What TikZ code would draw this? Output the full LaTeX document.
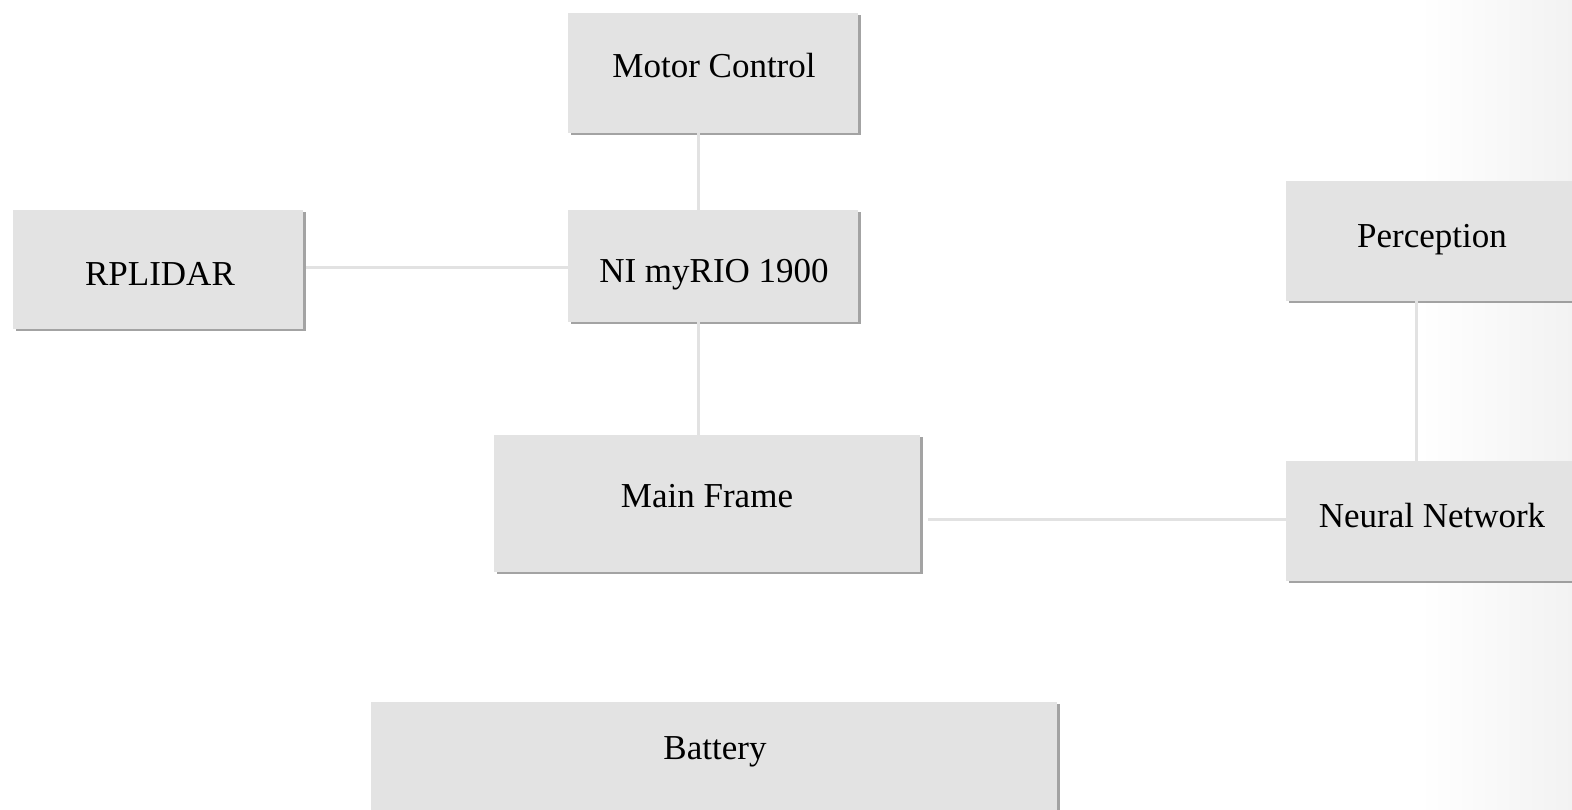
\documentclass[tikz,border=0pt]{standalone}
\usepackage{fontspec}
\setmainfont{Liberation Serif}
\usetikzlibrary{shadows}
\definecolor{boxgray}{HTML}{E3E3E3}
\definecolor{linegray}{HTML}{E2E2E2}
\tikzset{
  blk/.style={draw=none, fill=boxgray, inner sep=0pt,
    drop shadow={shadow xshift=3pt, shadow yshift=-2pt, opacity=0.6, fill=gray!80!black}},
  lbl/.style={anchor=base, inner sep=0pt, font=\fontsize{35}{40}\selectfont},
  wire/.style={draw=linegray, line width=3pt}
}
\begin{document}
\begin{tikzpicture}[x=1pt,y=-1pt]
\useasboundingbox (0,0) rectangle (1572,809);
\fill[white] (0,0) rectangle (1572,809);
\shade[left color=white, right color=black!6] (1420,0) rectangle (1600,809);
% boxes
\node[blk, minimum width=290pt, minimum height=120pt] (mc) at (713,73) {};
\node[blk, minimum width=290pt, minimum height=112pt] (ni) at (713,266) {};
\node[blk, minimum width=290pt, minimum height=119pt] (rp) at (158,269.5) {};
\node[blk, minimum width=426pt, minimum height=137pt] (mf) at (707,503.5) {};
\node[blk, minimum width=294pt, minimum height=120pt] (pe) at (1433,241) {};
\node[blk, minimum width=294pt, minimum height=120pt] (nn) at (1433,521) {};
\node[blk, minimum width=686pt, minimum height=118pt] (ba) at (714,761) {};
% connectors
\coordinate (mcb) at (698,133);
\coordinate (nit) at (698,210);
\coordinate (nib) at (698,322);
\coordinate (mft) at (698,435);
\coordinate (nil) at (568,267);
\coordinate (rpr) at (306,267);
\coordinate (mfr) at (928,519);
\coordinate (nnl) at (1286,519);
\coordinate (peb) at (1416,301);
\coordinate (nnt) at (1416,461);
\draw[wire] (mcb) -- (nit);
\draw[wire] (nib) -- (mft);
\draw[wire] (rpr) -- (nil);
\draw[wire] (mfr) -- (nnl);
\draw[wire] (peb) -- (nnt);
% labels
\node[lbl] (tmc) at (714,77.5) {Motor Control};
\node[lbl] (tni) at (714,282) {NI myRIO 1900};
\node[lbl] (trp) at (160,285) {RPLIDAR};
\node[lbl] (tmf) at (707,507) {Main Frame};
\node[lbl] (tpe) at (1432,247) {Perception};
\node[lbl] (tnn) at (1432,527) {Neural Network};
\node[lbl] (tba) at (715,759) {Battery};
\end{tikzpicture}
\end{document}
